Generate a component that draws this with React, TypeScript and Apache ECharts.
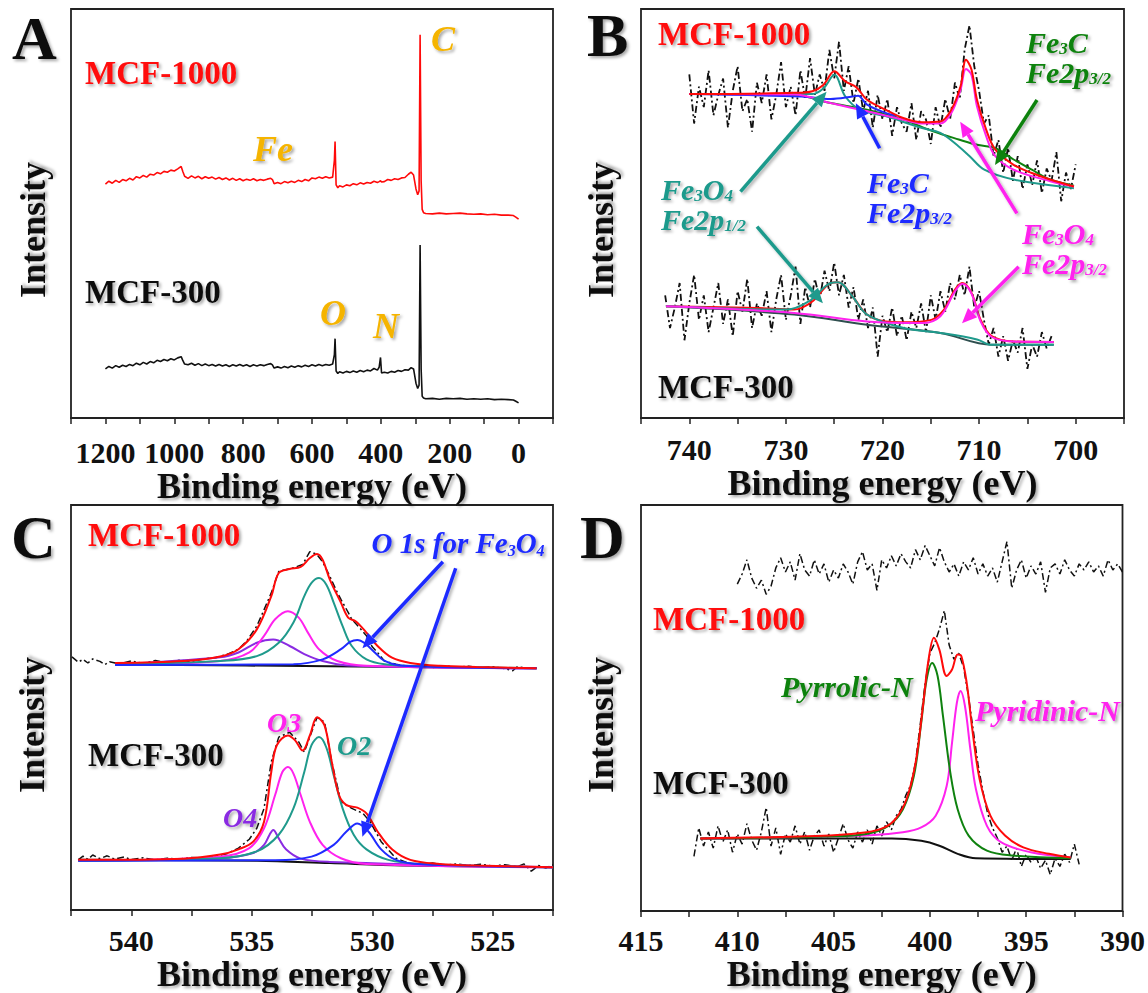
import React, { useEffect, useRef } from "react";
import * as echarts from "echarts";

const FONT = "'Liberation Serif', 'Times New Roman', Times, serif";
const RED = "#ff0a0a";
const TEAL = "#1f9a8c";
const MAG = "#ff22ee";
const BLUE = "#1f2bff";
const GREEN = "#0f820f";
const PURPLE = "#8a2be2";
const GOLD = "#f5b400";
const INK = "#111111";

// ---------------- Panel A : survey spectra ----------------
const surveyEnergy = [
  1200, 1190, 1180, 1170, 1160, 1150, 1140, 1130, 1120, 1110, 1100, 1090, 1080, 1070, 1060, 1050, 1040, 1030, 1020, 1010, 1000, 990,
  980, 975, 970,
  960, 950, 940, 930, 920, 910, 900, 890, 880, 870, 860, 850, 840, 830, 820, 810, 800, 790, 780, 770, 760, 750, 740, 730,
  720, 715, 710,
  700, 690, 680, 670, 660, 650, 640, 630, 620, 610, 600, 590, 580, 570, 560, 550, 540,
  535, 533, 530, 525, 520,
  510, 500, 490, 480, 470, 460, 450, 440, 430, 420,
  410, 405, 401, 398,
  390, 380, 370, 360, 350, 340, 330, 320,
  312, 305, 298, 293, 289, 286, 283, 280, 276,
  270, 250, 230, 210, 190, 170, 150, 130, 110, 90, 70, 50, 30,
  15, 8, 0,
];
const survey1000 = [
  57.2, 57.9, 57.4, 58.1, 57.6, 58.3, 58.0, 58.6, 58.2, 59.0, 58.7, 59.3, 58.9, 59.6, 59.4, 60.0, 59.7, 60.3, 60.1, 60.6, 60.4, 60.9,
  61.5, 60.2, 59.1,
  58.6, 59.2, 58.7, 59.1, 58.5, 59.0, 58.6, 58.9, 58.4, 58.8, 58.3, 58.7, 58.2, 58.6, 58.1, 58.5, 58.0, 58.4, 58.1, 58.5, 58.0, 58.3, 58.1, 58.4,
  58.6, 58.3, 57.3,
  57.6, 57.3, 57.8, 57.5, 57.9, 57.6, 58.1, 57.8, 58.3, 58.0, 58.7, 58.5, 58.9, 58.6, 59.0, 58.7, 58.9,
  63.0, 67.6, 57.0, 56.3, 56.8,
  56.5, 57.0, 56.8, 57.3, 57.0, 57.5, 57.2, 57.6, 57.4, 57.9,
  57.6, 57.8, 58.0, 57.7,
  57.8, 58.3, 58.1, 58.5, 58.3, 58.7, 58.8, 59.6,
  60.1, 59.4, 56.0, 54.6, 55.5, 93.7, 58.0, 51.0, 50.2,
  50.0, 49.9, 50.1, 49.9, 50.0, 50.1, 49.9, 49.8, 49.9, 49.7, 49.8, 49.6, 49.6,
  49.5, 49.1, 48.6,
];
const survey300 = [
  12.0, 12.6, 12.2, 12.8, 12.4, 12.9, 12.6, 13.1, 12.8, 13.4, 13.0, 13.6, 13.2, 13.8, 13.5, 14.1, 13.8, 14.3, 14.0, 14.5, 14.2, 14.7,
  15.0, 14.0, 13.2,
  13.0, 13.4, 12.9, 13.3, 12.8, 13.2, 12.8, 13.1, 12.7, 13.1, 12.7, 13.0, 12.6, 13.0, 12.7, 13.1, 12.7, 13.0, 12.6, 13.0, 12.7, 13.0, 12.8, 13.1,
  13.3, 13.0, 12.2,
  12.5, 12.2, 12.6, 12.3, 12.7, 12.4, 12.8, 12.5, 12.9, 12.6, 13.0, 12.7, 13.1, 12.8, 13.1, 12.9, 13.2,
  15.5, 19.4, 11.5, 10.9, 11.3,
  11.0, 11.4, 11.1, 11.5, 11.2, 11.6, 11.3, 11.7, 11.5, 12.1,
  11.7, 12.4, 14.8, 11.0,
  11.2, 11.0, 11.4, 11.2, 11.6, 11.4, 11.8, 11.7,
  12.3, 12.0, 8.5, 7.2, 8.0, 42.3, 12.0, 5.3, 4.9,
  4.7, 4.8, 4.6, 4.8, 4.7, 4.8, 4.6, 4.7, 4.6, 4.7, 4.5, 4.6, 4.5,
  4.4, 4.1, 3.7,
];

// ---------------- Panel B : Fe 2p ----------------
const feRaw1000Start = 740;
const feRaw1000Step = -0.5;
const feRaw1000 = [
  84, 72, 81, 76, 85, 74, 79, 83, 71, 80,
  86, 75, 78, 70, 82, 77, 84, 73, 79, 87,
  76, 81, 74, 85, 78, 88, 79, 84, 80, 90,
  83, 92, 80, 86, 77, 83, 75, 80, 71, 79,
  73, 78, 69, 76, 72, 70, 77, 68, 75, 73,
  67, 76, 71, 78, 73, 82, 78, 90, 96, 86,
  80, 72, 74, 64, 68, 60, 66, 58, 64, 56,
  62, 57, 63, 55, 61, 58, 65, 53, 60, 56,
  62,
];
const feRaw300Start = 742.5;
const feRaw300Step = -0.5;
const feRaw300 = [
  30, 22, 27, 33, 19, 28, 35, 24, 30, 21,
  27, 33, 23, 29, 20, 31, 26, 34, 22, 28,
  25, 31, 21, 29, 35, 24, 30, 37, 23, 32,
  27, 34, 29, 36, 31, 38, 30, 35, 27, 32,
  24, 29, 22, 27, 15, 25, 21, 27, 20, 25,
  19, 26, 22, 28, 21, 30, 24, 31, 26, 33,
  29, 35, 30, 37, 27, 31, 24, 18, 22, 15,
  20, 14, 19, 16, 22, 12, 18, 15, 21, 17,
  20,
];
const fe1000Envelope = [[740.0, 79.2], [729.15, 79.5], [727.26, 79.9], [726.1, 81.5], [724.99, 84.8], [723.85, 82.3], [722.72, 80.9], [721.6, 77.8], [719.69, 75.4], [717.79, 73.3], [715.9, 72.3], [714.01, 72.5], [712.87, 75.4], [711.92, 81.1], [711.36, 87.6], [710.79, 85.2], [710.22, 77.8], [709.27, 70.5], [708.32, 65.6], [706.43, 61.9], [704.54, 59.9], [702.64, 58.3], [700.18, 56.6]];
const fe1000Fe3O4p12 = [[740.0, 79.2], [727.26, 79.2], [726.1, 80.6], [724.99, 83.9], [723.85, 78.6], [722.33, 75.4], [719.69, 73.8], [715.9, 70.9], [714.01, 69.7], [712.11, 66.4], [710.98, 64.0], [709.46, 60.7], [706.43, 58.3], [700.18, 56.2]];
const fe1000Fe3C722 = [[740.0, 79.2], [728.39, 78.6], [725.37, 78.0], [723.1, 78.6], [722.53, 78.8], [721.6, 76.6], [719.69, 74.6], [718.5, 73.9]];
const fe1000Fe3O4p32 = [[740.0, 79.2], [729.15, 79.1], [725.37, 77.0], [721.6, 75.0], [717.79, 72.9], [715.9, 72.0], [714.01, 72.0], [712.87, 74.6], [711.92, 80.3], [711.36, 85.3], [710.79, 83.9], [710.22, 76.2], [709.27, 68.9], [708.32, 64.0], [706.43, 60.7], [702.64, 57.9], [700.18, 56.6]];
const fe1000Fe3C708 = [[740.0, 79.2], [729.15, 79.0], [725.37, 77.0], [721.6, 75.4], [717.79, 72.9], [714.76, 70.1], [712.11, 68.1], [710.22, 66.8], [708.32, 66.0], [706.43, 63.2], [704.54, 60.7], [702.64, 58.3], [700.18, 56.8]];
const fe300Envelope = [[742.4, 27.3], [732.93, 26.9], [729.15, 26.5], [727.26, 28.5], [725.37, 33.0], [724.61, 33.2], [723.1, 29.7], [721.6, 25.3], [719.69, 23.6], [717.79, 23.4], [714.95, 24.0], [713.63, 26.5], [712.49, 31.4], [711.73, 33.0], [710.79, 30.6], [709.84, 24.0], [708.7, 20.0], [706.43, 18.7], [702.27, 18.6]];
const fe300Fe3O4p32 = [[742.4, 27.3], [729.15, 25.7], [721.6, 23.6], [715.9, 23.2], [714.01, 24.9], [712.49, 31.0], [711.73, 32.8], [710.79, 30.4], [709.84, 23.6], [708.7, 19.8], [706.43, 18.7], [702.27, 18.6]];
const fe300Fe3O4p12 = [[742.4, 27.3], [729.91, 26.5], [727.64, 28.5], [725.37, 33.0], [724.61, 33.2], [723.1, 29.7], [721.6, 25.3], [717.79, 22.0], [714.01, 20.8], [710.22, 19.2], [708.7, 17.9], [702.27, 17.9]];
const fe300Baseline = [[742.4, 27.3], [729.15, 25.3], [721.6, 22.8], [714.01, 20.8], [708.7, 17.9], [702.27, 17.9]];

// ---------------- Panel C : O 1s ----------------
const o1000Raw = [[542.46, 62.5], [542.2, 61.2], [542.0, 61.9], [541.8, 61.0], [541.6, 62.0], [541.3, 61.4], [541.1, 60.6], [540.9, 61.3], [540.5, 60.8], [540.0, 61.5], [539.5, 60.9], [539.0, 61.6], [538.5, 61.0], [538.0, 61.7], [537.5, 61.3], [537.0, 62.0], [536.5, 62.3], [536.0, 63.2], [535.55, 64.4], [535.2, 66.5], [534.79, 70.1], [534.5, 74.0], [534.19, 78.3], [533.88, 83.6], [533.6, 84.0], [533.27, 84.5], [532.89, 85.3], [532.59, 88.5], [532.3, 87.8], [532.06, 86.0], [531.76, 82.4], [531.5, 79.0], [531.3, 76.7], [531.0, 73.5], [530.85, 71.8], [530.5, 69.5], [530.24, 67.7], [530.0, 65.0], [529.78, 63.6], [529.5, 61.5], [529.02, 60.7], [528.5, 60.2], [528.0, 60.4], [527.5, 59.9], [527.0, 60.3], [526.5, 60.0], [526.0, 60.2], [525.5, 59.8], [525.0, 60.1], [524.5, 59.6], [524.17, 59.1], [524.0, 60.0], [523.56, 59.8]];
const o1000Envelope = [[540.67, 61.0], [537.83, 61.5], [536.31, 62.6], [535.55, 64.4], [534.79, 69.3], [534.19, 77.5], [533.88, 83.2], [533.43, 84.2], [532.97, 84.7], [532.59, 86.9], [532.29, 87.9], [532.06, 86.5], [531.76, 81.6], [531.3, 75.9], [531.0, 72.2], [530.69, 71.3], [530.24, 68.5], [529.78, 65.2], [529.18, 62.3], [528.42, 61.0], [527.2, 60.3], [525.68, 60.0], [523.18, 59.7]];
const o1000O2 = [[540.67, 60.7], [536.31, 61.5], [534.79, 62.7], [533.88, 66.0], [533.27, 71.0], [532.82, 77.5], [532.52, 80.8], [532.21, 82.0], [531.91, 80.4], [531.6, 75.9], [531.23, 70.1], [530.85, 65.2], [530.24, 61.9], [529.48, 60.7], [527.96, 60.2], [523.18, 59.7]];
const o1000O3 = [[540.67, 60.6], [536.31, 61.5], [535.1, 63.6], [534.49, 67.7], [534.03, 71.8], [533.5, 73.8], [533.05, 72.2], [532.67, 68.5], [532.21, 64.4], [531.45, 61.5], [530.24, 60.3], [523.18, 59.7]];
const o1000O4 = [[540.67, 60.6], [536.31, 62.4], [535.55, 63.6], [534.79, 66.0], [534.11, 66.8], [533.43, 65.2], [532.82, 63.2], [532.06, 61.5], [531.0, 60.4], [523.18, 59.7]];
const o1000O1 = [[540.67, 60.5], [533.27, 60.7], [532.06, 61.9], [531.3, 64.4], [530.92, 66.2], [530.62, 66.7], [530.31, 65.9], [529.93, 63.8], [529.48, 61.5], [528.72, 60.3], [523.18, 59.7]];
const o1000Baseline = [[540.67, 60.6], [531.76, 60.2], [523.18, 59.7]];

const o300Raw = [[542.2, 12.4], [542.0, 13.3], [541.8, 12.5], [541.6, 13.6], [541.3, 12.7], [541.0, 13.4], [540.7, 12.6], [540.3, 13.1], [540.0, 12.5], [539.5, 12.9], [539.0, 12.4], [538.5, 12.8], [538.0, 12.6], [537.5, 13.0], [537.0, 12.9], [536.5, 13.3], [536.0, 14.0], [535.55, 15.3], [535.1, 17.5], [534.79, 20.2], [534.49, 25.1], [534.19, 36.6], [533.88, 42.7], [533.43, 43.9], [533.05, 41.5], [532.82, 39.0], [532.52, 43.9], [532.29, 47.6], [531.98, 46.4], [531.68, 36.6], [531.3, 26.8], [530.85, 25.1], [530.39, 23.9], [530.09, 21.8], [529.63, 16.9], [529.02, 12.8], [528.5, 11.6], [528.0, 11.3], [527.5, 11.6], [527.0, 11.1], [526.5, 11.4], [526.0, 11.0], [525.5, 11.3], [525.0, 10.9], [524.5, 11.2], [524.0, 10.7], [523.7, 11.4], [523.4, 9.6], [523.1, 11.0], [522.8, 10.4], [522.5, 11.2]];
const o300Envelope = [[542.2, 12.4], [537.83, 12.7], [536.31, 13.7], [535.55, 15.0], [534.94, 16.9], [534.49, 21.8], [534.19, 34.1], [533.96, 40.7], [533.5, 43.1], [533.2, 41.9], [532.89, 39.4], [532.59, 43.1], [532.29, 47.6], [531.98, 45.6], [531.68, 36.6], [531.38, 28.4], [531.07, 25.9], [530.62, 25.3], [530.24, 23.9], [529.78, 19.4], [529.18, 15.0], [528.42, 12.4], [527.2, 11.4], [525.68, 11.0], [522.5, 10.6]];
const o300O2 = [[542.2, 12.2], [536.31, 12.8], [534.79, 14.5], [533.88, 18.6], [533.27, 25.1], [532.82, 34.1], [532.52, 40.7], [532.21, 42.7], [531.91, 40.2], [531.6, 33.3], [531.23, 25.1], [530.77, 18.6], [530.24, 15.0], [529.33, 12.4], [527.96, 11.4], [522.5, 10.6]];
const o300O3 = [[542.2, 12.2], [536.31, 13.2], [535.1, 15.3], [534.49, 20.2], [534.03, 28.4], [533.73, 34.1], [533.5, 35.3], [533.27, 33.7], [532.97, 28.4], [532.59, 21.8], [532.06, 16.1], [531.3, 12.8], [530.24, 11.4], [522.5, 10.6]];
const o300O4 = [[542.2, 12.2], [536.31, 12.8], [534.94, 14.1], [534.49, 16.1], [534.26, 18.6], [534.11, 19.8], [533.88, 17.7], [533.58, 15.0], [532.97, 12.7], [531.76, 11.9], [522.5, 10.6]];
const o300O1 = [[542.2, 12.2], [534.03, 12.3], [532.52, 13.2], [531.6, 16.1], [531.07, 19.4], [530.62, 21.4], [530.16, 19.4], [529.63, 15.0], [529.02, 12.4], [527.96, 11.3], [522.5, 10.6]];
const o300Baseline = [[542.2, 12.4], [534.79, 12.2], [531.76, 11.6], [528.72, 11.0], [522.5, 10.6]];

// ---------------- Panel D : N 1s ----------------
const nRaw1000Start = 410;
const nRaw1000Step = -0.25;
const nRaw1000 = [
  80.5, 83.0, 86.5, 82.0, 79.5, 81.5, 78.0, 80.0, 84.5, 87.0,
  83.5, 86.0, 81.5, 88.0, 84.0, 82.5, 86.5, 83.0, 85.5, 81.0,
  84.0, 82.0, 85.5, 83.5, 80.5, 86.0, 88.5, 84.0, 85.5, 79.0,
  86.5, 84.5, 87.5, 85.0, 88.0, 86.0, 84.5, 89.0, 86.5, 90.0,
  87.5, 85.0, 89.5, 86.0, 83.5, 85.5, 82.5, 86.0, 84.0, 87.0,
  83.0, 85.5, 82.5, 84.5, 81.0, 86.0, 91.0, 79.5, 84.0, 86.5,
  82.0, 85.0, 83.0, 86.0, 78.5, 84.5, 85.5, 83.0, 86.5, 84.0,
  82.5, 85.5, 84.0, 86.0, 83.5, 85.0, 82.5, 86.5, 84.0, 85.5,
  83.5,
];
const nRaw300Start = 412.25;
const nRaw300Step = -0.25;
const nRaw300 = [
  13.5, 20.5, 16.0, 19.5, 15.5, 21.0, 17.0, 20.0, 14.5, 19.0,
  16.5, 21.5, 17.5, 15.0, 19.5, 25.5, 16.0, 20.5, 14.0, 19.0,
  17.0, 21.0, 16.5, 19.5, 15.0, 18.5, 20.0, 16.0, 19.0, 14.5,
  18.0, 21.5, 17.5, 15.5, 19.5, 17.0, 20.0, 16.5, 21.0, 18.5,
  22.0, 20.0, 23.5, 25.0, 28.5, 31.0, 36.5, 46.0, 56.0, 63.5,
  66.0, 69.5, 74.0, 65.5, 62.0, 63.5, 60.0, 53.0, 44.5, 36.0,
  29.5, 24.0, 20.5, 18.0, 14.5, 16.0, 12.5, 15.5, 11.0, 14.0,
  12.0, 13.5, 10.5, 12.5, 9.0, 13.0, 11.0, 14.0, 12.0, 16.5,
  11.5,
];
const n300Envelope = [[411.92, 17.9], [405.19, 18.6], [403.29, 19.4], [402.35, 20.6], [401.78, 22.7], [401.21, 27.6], [400.74, 36.6], [400.36, 50.5], [400.07, 61.9], [399.79, 67.3], [399.51, 64.4], [399.13, 57.9], [398.85, 59.5], [398.56, 63.2], [398.37, 62.8], [398.09, 56.2], [397.8, 44.8], [397.42, 32.5], [396.86, 23.5], [396.1, 18.6], [395.15, 15.7], [393.82, 14.1], [392.69, 13.2]];
const n300Pyrrolic = [[411.92, 17.9], [405.19, 18.4], [403.29, 19.0], [402.16, 21.0], [401.4, 25.1], [400.83, 33.3], [400.45, 46.4], [400.17, 57.0], [399.88, 61.1], [399.6, 57.9], [399.32, 48.0], [398.94, 34.1], [398.56, 25.1], [397.99, 18.6], [397.04, 14.9], [395.72, 13.7], [392.69, 13.0]];
const n300Pyridinic = [[411.92, 17.9], [403.29, 18.6], [401.4, 19.4], [400.45, 20.6], [399.7, 23.5], [399.13, 30.8], [398.85, 41.5], [398.6, 51.3], [398.41, 54.2], [398.18, 50.5], [397.9, 39.9], [397.61, 30.0], [397.04, 21.0], [396.29, 16.9], [394.77, 14.5], [392.69, 13.2]];
const n300Baseline = [[411.92, 17.9], [401.97, 17.9], [400.45, 17.3], [399.51, 16.1], [398.56, 14.1], [397.61, 13.0], [392.69, 12.8]];

// ---------------- helpers ----------------
const onGrid = (start: number, step: number, vals: number[]) =>
  vals.map((v, i) => [Number((start + i * step).toFixed(2)), v]);
const zip = (xs: number[], ys: number[]) => xs.map((x, i) => [x, ys[i]]);

const SH = {
  textShadowColor: "rgba(0,0,0,0.35)",
  textShadowBlur: 3,
  textShadowOffsetX: 2,
  textShadowOffsetY: 2,
};

function xAx(gi: number, min: number, max: number, interval: number, every: number, lo: number, hi: number, margin: number, nameGap: number) {
  return {
    type: "value",
    gridIndex: gi,
    min,
    max,
    interval,
    inverse: true,
    name: "Binding energy (eV)",
    nameLocation: "middle",
    nameGap,
    nameTextStyle: { fontFamily: FONT, fontWeight: "bold", fontSize: 36, color: INK, ...SH },
    axisLine: { show: true, onZero: false, lineStyle: { color: "#222", width: 1.8 } },
    axisTick: { show: true, inside: false, length: 6, lineStyle: { color: "#222", width: 1.5 } },
    axisLabel: {
      margin,
      fontFamily: FONT,
      fontWeight: "bold",
      fontSize: 30,
      color: INK,
      formatter: (v: number) => (Math.abs(v % every) < 1e-6 && v >= lo - 1e-6 && v <= hi + 1e-6 ? String(v) : ""),
    },
    splitLine: { show: false },
  };
}
const yAx = (gi: number) => ({
  type: "value",
  gridIndex: gi,
  min: 0,
  max: 100,
  axisLine: { show: false },
  axisTick: { show: false },
  axisLabel: { show: false },
  splitLine: { show: false },
});

function line(name: string, data: number[][], color: string, gi: number, opts: any = {}) {
  return {
    type: "line",
    name,
    xAxisIndex: gi,
    yAxisIndex: gi,
    data,
    symbol: "none",
    showSymbol: false,
    silent: true,
    smooth: opts.smooth ?? 0.35,
    lineStyle: { color, width: opts.width ?? 2, type: opts.type ?? "solid" },
    z: opts.z ?? 3,
  };
}
const DASHDOT = [7, 3, 2, 3];
const raw = (name: string, data: number[][], gi: number, width = 1.5) =>
  line(name, data, INK, gi, { smooth: false, width, type: DASHDOT, z: 2 });

function txt(x: number, y: number, text: string, fill: string, size: number, italic = false) {
  return {
    type: "text",
    x,
    y,
    silent: true,
    z: 50,
    style: {
      text,
      fill,
      fontFamily: FONT,
      fontWeight: "bold",
      fontStyle: italic ? "italic" : "normal",
      fontSize: size,
      lineHeight: size,
      align: "left",
      verticalAlign: "middle",
      ...SH,
    },
  };
}
// chemical label, possibly on several lines; each part is [text, isSubscript]
function chem(x: number, y: number, lines: [string, boolean][][], fill: string, size = 30, lh = 30) {
  const text = lines.map((parts) => parts.map(([t, sub]) => `{${sub ? "s" : "n"}|${t}}`).join("")).join("\n");
  const base = { fill, fontFamily: FONT, fontWeight: "bold", fontStyle: "italic", ...SH };
  return {
    type: "text",
    x,
    y,
    silent: true,
    z: 50,
    style: {
      text,
      fill,
      fontFamily: FONT,
      fontWeight: "bold",
      fontStyle: "italic",
      fontSize: size,
      align: "left",
      verticalAlign: "middle",
      rich: {
        n: { ...base, fontSize: size, lineHeight: lh, verticalAlign: "middle" },
        s: { ...base, fontSize: Math.round(size * 0.56), lineHeight: 10, verticalAlign: "bottom" },
      },
    },
  };
}
function vtxt(x: number, y: number, text: string) {
  return {
    type: "text",
    x,
    y,
    rotation: Math.PI / 2,
    silent: true,
    z: 50,
    style: {
      text,
      fill: INK,
      fontFamily: FONT,
      fontWeight: "bold",
      fontSize: 36,
      align: "center",
      verticalAlign: "middle",
      ...SH,
    },
  };
}
function arrow(x1: number, y1: number, x2: number, y2: number, color: string) {
  const a = Math.atan2(y2 - y1, x2 - x1);
  const L = 15;
  const W = 6.5;
  const bx = x2 - L * Math.cos(a);
  const by = y2 - L * Math.sin(a);
  return [
    {
      type: "line",
      silent: true,
      z: 40,
      shape: { x1, y1, x2: bx, y2: by },
      style: { stroke: color, lineWidth: 3.5, shadowBlur: 3, shadowColor: "rgba(0,0,0,0.3)", shadowOffsetX: 2, shadowOffsetY: 2 },
    },
    {
      type: "polygon",
      silent: true,
      z: 40,
      shape: {
        points: [
          [x2, y2],
          [bx + W * Math.sin(a), by - W * Math.cos(a)],
          [bx - W * Math.sin(a), by + W * Math.cos(a)],
        ],
      },
      style: { fill: color },
    },
  ];
}

const FE3C: [string, boolean][] = [["Fe", false], ["3", true], ["C", false]];
const FE3O4: [string, boolean][] = [["Fe", false], ["3", true], ["O", false], ["4", true]];
const P32: [string, boolean][] = [["Fe2p", false], ["3/2", true]];
const P12: [string, boolean][] = [["Fe2p", false], ["1/2", true]];

export default function App() {
  const ref = useRef<HTMLDivElement>(null);
  useEffect(() => {
    if (!ref.current) return;
    const chart = echarts.init(ref.current, undefined, { renderer: "svg" });
    const gridBase = { show: true, borderColor: "#222", borderWidth: 1.8, backgroundColor: "transparent" };

    const graphics: any[] = [
      // Panel A
      txt(12, 37.5, "A", INK, 62),
      txt(85, 72.5, "MCF-1000", RED, 33),
      txt(85, 291.5, "MCF-300", INK, 33),
      txt(431, 38.5, "C", GOLD, 36, true),
      txt(253, 148.5, "Fe", GOLD, 36, true),
      txt(320, 312.5, "O", GOLD, 36, true),
      txt(373, 325.5, "N", GOLD, 36, true),
      vtxt(33, 230, "Intensity"),
      // Panel B
      txt(587, 35, "B", INK, 62),
      txt(658, 33.5, "MCF-1000", RED, 33),
      txt(658, 386.5, "MCF-300", INK, 33),
      chem(1026, 57, [FE3C, P32], GREEN),
      chem(867, 197, [FE3C, P32], BLUE),
      chem(661, 204, [FE3O4, P12], TEAL),
      chem(1022, 248, [FE3O4, P32], MAG),
      vtxt(601, 230, "Intensity"),
      ...arrow(740.5, 191.7, 826.6, 91.7, TEAL),
      ...arrow(757, 226.7, 822.9, 303.3, TEAL),
      ...arrow(879.6, 148.3, 855.8, 103.3, BLUE),
      ...arrow(1037, 100, 995, 165, GREEN),
      ...arrow(1016.9, 213.3, 960.2, 121.7, MAG),
      ...arrow(1018.7, 266.7, 962, 323.3, MAG),
      // Panel C
      txt(11, 536.5, "C", INK, 62),
      txt(88, 535, "MCF-1000", RED, 33),
      chem(371.5, 543, [[["O 1s for Fe", false], ["3", true], ["O", false], ["4", true]]], BLUE, 29, 30),
      txt(88, 755, "MCF-300", INK, 33),
      txt(267, 722.5, "O3", MAG, 28, true),
      txt(337, 745, "O2", TEAL, 28, true),
      txt(223, 817.5, "O4", PURPLE, 28, true),
      vtxt(32, 725, "Intensity"),
      ...arrow(442.9, 561.7, 362.4, 648.3, BLUE),
      ...arrow(455.7, 568.3, 362.4, 836.7, BLUE),
      // Panel D
      txt(580, 536.5, "D", INK, 62),
      txt(653, 619, "MCF-1000", RED, 33),
      txt(781, 686, "Pyrrolic-N", GREEN, 30, true),
      txt(975, 710, "Pyridinic-N", MAG, 30, true),
      txt(653, 782.5, "MCF-300", INK, 33),
      vtxt(601, 725, "Intensity"),
    ];

    const series: any[] = [
      // A
      line("MCF-1000 survey", zip(surveyEnergy, survey1000), RED, 0, { smooth: false, width: 1.6 }),
      line("MCF-300 survey", zip(surveyEnergy, survey300), INK, 0, { smooth: false, width: 1.6 }),
      // B
      raw("MCF-1000 Fe2p raw", onGrid(feRaw1000Start, feRaw1000Step, feRaw1000), 1, 1.8),
      raw("MCF-300 Fe2p raw", onGrid(feRaw300Start, feRaw300Step, feRaw300), 1, 1.8),
      line("MCF-1000 Fe3C 708", fe1000Fe3C708, GREEN, 1),
      line("MCF-1000 Fe3O4 2p1/2", fe1000Fe3O4p12, TEAL, 1),
      line("MCF-1000 Fe3C 722", fe1000Fe3C722, BLUE, 1),
      line("MCF-1000 Fe3O4 2p3/2", fe1000Fe3O4p32, MAG, 1),
      line("MCF-1000 Fe envelope", fe1000Envelope, RED, 1),
      line("MCF-300 Fe baseline", fe300Baseline, "#2f4f4f", 1),
      line("MCF-300 Fe envelope", fe300Envelope, RED, 1),
      line("MCF-300 Fe3O4 2p1/2", fe300Fe3O4p12, TEAL, 1),
      line("MCF-300 Fe3O4 2p3/2", fe300Fe3O4p32, MAG, 1),
      // C
      raw("MCF-1000 O1s raw", o1000Raw, 2),
      raw("MCF-300 O1s raw", o300Raw, 2),
      line("MCF-1000 O baseline", o1000Baseline, INK, 2),
      line("MCF-1000 O4", o1000O4, PURPLE, 2),
      line("MCF-1000 O3", o1000O3, MAG, 2),
      line("MCF-1000 O2", o1000O2, TEAL, 2),
      line("MCF-1000 O1", o1000O1, BLUE, 2),
      line("MCF-1000 O envelope", o1000Envelope, RED, 2),
      line("MCF-300 O baseline", o300Baseline, INK, 2),
      line("MCF-300 O4", o300O4, PURPLE, 2),
      line("MCF-300 O3", o300O3, MAG, 2),
      line("MCF-300 O2", o300O2, TEAL, 2),
      line("MCF-300 O1", o300O1, BLUE, 2),
      line("MCF-300 O envelope", o300Envelope, RED, 2),
      // D
      raw("MCF-1000 N1s raw", onGrid(nRaw1000Start, nRaw1000Step, nRaw1000), 3),
      raw("MCF-300 N1s raw", onGrid(nRaw300Start, nRaw300Step, nRaw300), 3),
      line("MCF-300 N baseline", n300Baseline, INK, 3),
      line("MCF-300 Pyridinic-N", n300Pyridinic, MAG, 3),
      line("MCF-300 Pyrrolic-N", n300Pyrrolic, GREEN, 3),
      line("MCF-300 N envelope", n300Envelope, RED, 3),
    ];

    chart.setOption({
      animation: false,
      backgroundColor: "#ffffff",
      grid: [
        { ...gridBase, left: 71, top: 9, width: 482, height: 409 },
        { ...gridBase, left: 641, top: 9, width: 483, height: 409 },
        { ...gridBase, left: 71, top: 505, width: 482, height: 407 },
        { ...gridBase, left: 641, top: 505, width: 483, height: 407 },
      ],
      xAxis: [
        xAx(0, -100, 1300, 100, 200, 0, 1200, 19, 47),
        xAx(1, 695, 745, 5, 10, 700, 740, 16, 45),
        xAx(2, 522.5, 542.5, 2.5, 5, 525, 540, 15, 40),
        xAx(3, 390, 415, 2.5, 5, 390, 415, 14, 39),
      ],
      yAxis: [yAx(0), yAx(1), yAx(2), yAx(3)],
      series,
      graphic: graphics,
    });
    return () => chart.dispose();
  }, []);
  return <div ref={ref} style={{ position: "absolute", left: 0, top: 0, width: 1148, height: 993 }} />;
}
